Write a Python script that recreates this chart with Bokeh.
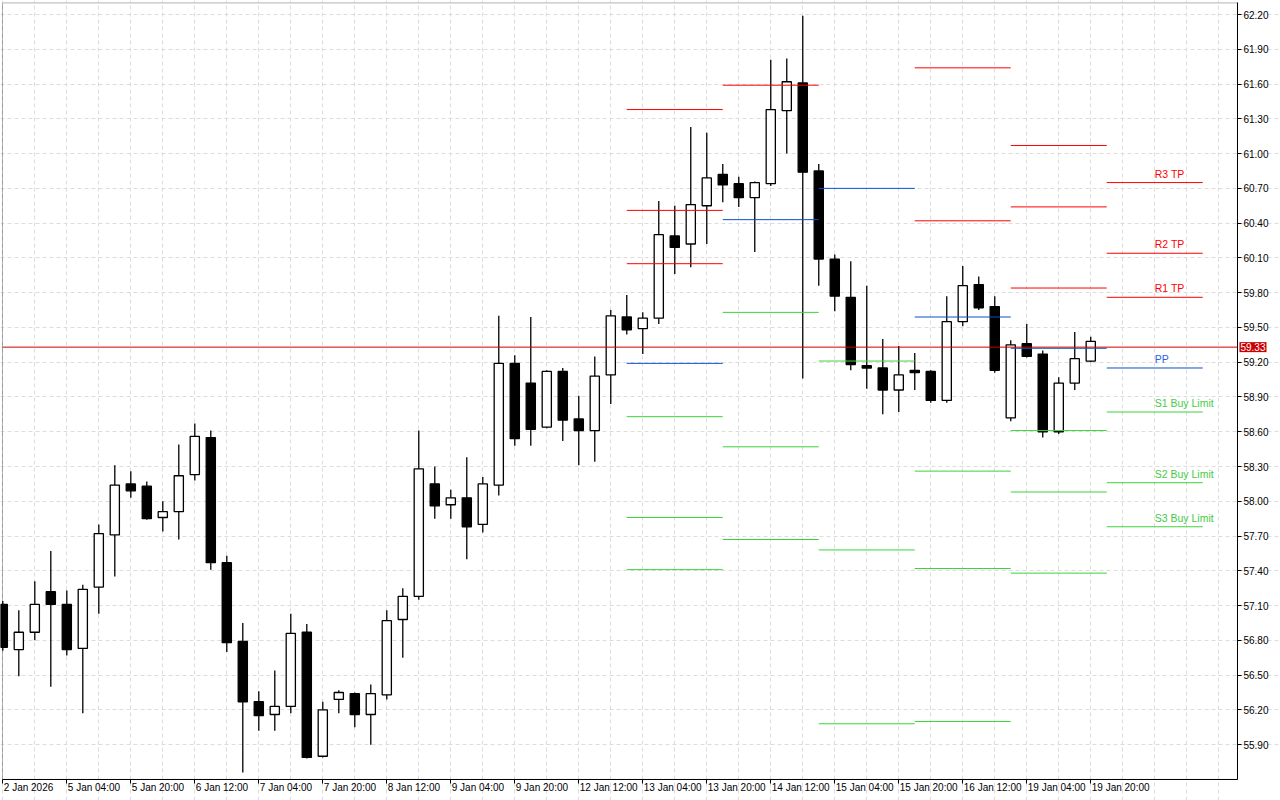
from bokeh.plotting import figure
from bokeh.models import (FixedTicker, PrintfTickFormatter, Label, BoxAnnotation,
                          ColumnDataSource, Range1d)
from bokeh.embed import file_html
from bokeh.resources import INLINE
from bokeh.core.properties import value

# ---------------- data (H4 bars, 2 Jan 2026 12:00 .. 19 Jan 2026 20:00) ----------------
opens = [57.11, 56.72, 56.87, 57.22, 57.11, 56.73, 57.26, 57.71, 58.15, 58.13,
         57.86, 57.91, 58.23, 58.55, 57.47, 56.79, 56.27, 56.16, 56.23, 56.87,
         55.80, 56.29, 56.34, 56.16, 56.33, 56.98, 57.18, 58.15, 57.97, 58.03,
         57.80, 58.14, 59.19, 59.02, 58.64, 59.12, 58.71, 58.61, 59.09, 59.59,
         59.49, 59.58, 60.29, 60.22, 60.55, 60.82, 60.74, 60.62, 60.74, 61.37,
         61.61, 60.85, 60.09, 59.76, 59.17, 59.15, 58.96, 59.13, 59.12, 58.87,
         59.55, 59.87, 59.68, 58.72, 59.36, 59.27, 58.60, 59.02, 59.21]
highs = [57.14, 57.06, 57.31, 57.57, 57.23, 57.28, 57.80, 58.31, 58.26, 58.17,
         58.00, 58.49, 58.67, 58.61, 57.53, 56.95, 56.36, 56.54, 57.03, 56.94,
         56.27, 56.37, 56.35, 56.42, 57.06, 57.25, 58.61, 58.30, 58.10, 58.38,
         58.21, 59.60, 59.26, 59.59, 59.13, 59.15, 58.91, 59.25, 59.65, 59.78,
         59.63, 60.59, 60.55, 61.23, 61.18, 60.91, 60.80, 60.76, 61.81, 61.82,
         62.19, 60.91, 60.13, 60.07, 59.86, 59.40, 59.34, 59.28, 59.13, 59.77,
         60.03, 59.94, 59.77, 59.39, 59.53, 59.30, 59.07, 59.46, 59.42]
lows = [56.71, 56.49, 56.80, 56.40, 56.67, 56.17, 57.03, 57.35, 58.03, 57.84,
        57.74, 57.67, 58.18, 57.41, 56.70, 55.66, 56.02, 56.02, 56.17, 55.78,
        55.79, 56.17, 56.05, 55.90, 56.29, 56.65, 57.15, 57.85, 57.85, 57.50,
        57.73, 58.05, 58.48, 58.48, 58.63, 58.52, 58.31, 58.34, 58.84, 59.44,
        59.27, 59.53, 59.96, 60.02, 60.22, 60.58, 60.54, 60.15, 60.72, 61.00,
        59.06, 59.86, 59.64, 59.13, 58.97, 58.75, 58.77, 58.96, 58.85, 58.85,
        59.51, 59.65, 59.11, 58.69, 59.24, 58.55, 58.58, 58.96, 59.20]
closes = [56.74, 56.87, 57.11, 57.11, 56.72, 57.24, 57.72, 58.14, 58.09, 57.85,
          57.91, 58.22, 58.56, 57.47, 56.78, 56.27, 56.15, 56.23, 56.86, 55.79,
          56.20, 56.35, 56.16, 56.34, 56.97, 57.18, 58.28, 57.96, 58.03, 57.78,
          58.15, 59.19, 58.54, 58.62, 59.12, 58.70, 58.61, 59.08, 59.60, 59.48,
          59.58, 60.30, 60.19, 60.56, 60.79, 60.73, 60.62, 60.75, 61.38, 61.62,
          60.84, 60.09, 59.77, 59.18, 59.15, 58.96, 59.09, 59.11, 58.87, 59.55,
          59.86, 59.67, 59.13, 59.35, 59.25, 58.60, 59.02, 59.23, 59.38]

tick_bars = [0, 4, 8, 12, 16, 20, 24, 28, 32, 36, 40, 44, 48, 52, 56, 60, 64, 68]
tick_labels = ["2 Jan 2026", "5 Jan 04:00", "5 Jan 20:00", "6 Jan 12:00",
               "7 Jan 04:00", "7 Jan 20:00", "8 Jan 12:00", "9 Jan 04:00",
               "9 Jan 20:00", "12 Jan 12:00", "13 Jan 04:00", "13 Jan 20:00",
               "14 Jan 12:00", "15 Jan 04:00", "15 Jan 20:00", "16 Jan 12:00",
               "19 Jan 04:00", "19 Jan 20:00"]

y_ticks = [55.90, 56.20, 56.50, 56.80, 57.10, 57.40, 57.70, 58.00, 58.30, 58.60,
           58.90, 59.20, 59.50, 59.80, 60.10, 60.40, 60.70, 61.00, 61.30, 61.60,
           61.90, 62.20]

current_price = 59.33

# daily pivot levels (None = off chart)
pivot_days = ["13 Jan", "14 Jan", "15 Jan", "16 Jan", "19 Jan", "20 Jan"]
pivot_first_bar = [39, 45, 51, 57, 63, 69]
pivot_r3 = [61.38, None, None, None, 61.07, 60.75]
pivot_r2 = [60.51, None, None, 61.74, 60.54, 60.14]
pivot_r1 = [60.05, 61.59, None, 60.42, 59.84, 59.76]
pivot_pp = [59.19, 60.43, 60.70, 59.59, 59.32, 59.15]
pivot_s1 = [58.73, 59.63, 59.21, 58.26, 58.61, 58.77]
pivot_s2 = [57.86, 58.47, 57.58, 57.42, 58.08, 58.16]
pivot_s3 = [57.41, 57.67, 56.08, 56.10, 57.38, 57.78]
level_names = ["R3 TP", "R2 TP", "R1 TP", "PP", "S1 Buy Limit", "S2 Buy Limit", "S3 Buy Limit"]

# ---------------- styles / layout ----------------
RED = "#ff0000"
BLUE = "#0a4fd0"
GREEN = "#3cd23c"
PRICE_RED = "#cc0000"
FONT = "Liberation Sans"
BARS_PER_DAY = 6

# the frame covers the whole canvas; the chart box sits inside it
X_VIEW = (-0.144, 79.86)
Y_VIEW = (55.418, 62.321)
X_LEFT, X_RIGHT = -0.02, 77.17
Y_BOTTOM, Y_TOP = 55.60, 62.30

p = figure(frame_width=1280, frame_height=800,
           x_range=Range1d(*X_VIEW), y_range=Range1d(*Y_VIEW),
           y_axis_location="right", toolbar_location=None, output_backend="svg",
           min_border=0)
p.background_fill_color = "white"
p.border_fill_color = "white"
p.outline_line_color = None

# grid (limited to the chart box)
p.xgrid.ticker = FixedTicker(ticks=list(range(0, 78, 2)))
p.ygrid.ticker = FixedTicker(ticks=y_ticks)
p.xgrid.bounds = (Y_BOTTOM, Y_TOP)
p.ygrid.bounds = (X_LEFT, X_RIGHT)
for g in (p.xgrid, p.ygrid):
    g.grid_line_color = "#dcdcdc"
    g.grid_line_dash = "4 3"
    g.grid_line_width = 1

# y axis at the right edge of the chart box
p.yaxis.fixed_location = X_RIGHT
p.yaxis.bounds = (Y_BOTTOM, Y_TOP)
p.yaxis.ticker = FixedTicker(ticks=y_ticks)
p.yaxis.formatter = PrintfTickFormatter(format="%.2f")
p.yaxis.major_label_text_font = FONT
p.yaxis.major_label_text_font_size = "10px"
p.yaxis.major_label_text_color = "black"
p.yaxis.major_tick_out = 4
p.yaxis.major_tick_in = 0
p.yaxis.minor_tick_line_color = None
p.yaxis.axis_line_color = "black"
p.yaxis.major_tick_line_color = "black"
p.yaxis.major_label_standoff = 2

# x axis at the bottom edge of the chart box: tick marks only
p.xaxis.fixed_location = Y_BOTTOM
p.xaxis.bounds = (X_LEFT, X_RIGHT)
p.xaxis.ticker = FixedTicker(ticks=tick_bars)
p.xaxis.major_label_overrides = {b: "" for b in tick_bars}
p.xaxis.major_tick_out = 4
p.xaxis.major_tick_in = 0
p.xaxis.minor_tick_line_color = None
p.xaxis.axis_line_color = "black"
p.xaxis.major_tick_line_color = "black"

# chart box border
p.add_layout(BoxAnnotation(left=X_LEFT, right=X_RIGHT, bottom=Y_BOTTOM, top=Y_TOP,
                           fill_alpha=0, line_color="black", line_width=1))

# time labels, left-aligned after each tick
p.text(x=tick_bars, y=[Y_BOTTOM] * len(tick_bars), text=tick_labels,
       x_offset=1, y_offset=3, text_align="left", text_baseline="top",
       text_font=value(FONT), text_font_size="10px", text_color="black")

# candles
idx = list(range(len(opens)))
bull = [c >= o for o, c in zip(opens, closes)]
csrc = ColumnDataSource(dict(
    x=idx, high=highs, low=lows,
    top=[max(o, c) for o, c in zip(opens, closes)],
    bottom=[min(o, c) for o, c in zip(opens, closes)],
    fill=["white" if b else "black" for b in bull]))
p.segment(x0="x", y0="low", x1="x", y1="high", source=csrc, line_color="black", line_width=1.3)
p.vbar(x="x", width=0.575, top="top", bottom="bottom", source=csrc,
       fill_color="fill", line_color="black", line_width=1.3)

# pivot segments
levels = [pivot_r3, pivot_r2, pivot_r1, pivot_pp, pivot_s1, pivot_s2, pivot_s3]
level_colors = [RED, RED, RED, BLUE, GREEN, GREEN, GREEN]
x0s, x1s, ys, cols = [], [], [], []
for lev, col in zip(levels, level_colors):
    for start, v in zip(pivot_first_bar, lev):
        if v is None:
            continue
        x0s.append(start)
        x1s.append(start + BARS_PER_DAY)
        ys.append(v)
        cols.append(col)
p.segment(x0=x0s, y0=ys, x1=x1s, y1=ys, line_color=cols, line_width=1)

# labels on last (future) day
last_vals = [lev[-1] for lev in levels]
lab_colors = [RED, RED, RED, "#2a62e0", "#44cc44", "#44cc44", "#44cc44"]
p.text(x=[pivot_first_bar[-1] + 3] * len(level_names), y=last_vals, text=level_names,
       text_color=lab_colors, text_font=value(FONT), text_font_size="10.5px",
       text_baseline="bottom", text_align="left", y_offset=-3)

# current price line + label
p.segment(x0=[X_LEFT], x1=[X_RIGHT], y0=[current_price], y1=[current_price],
          line_color=PRICE_RED, line_width=1)
p.add_layout(Label(x=X_RIGHT, y=current_price, x_offset=2, text="%.2f" % current_price,
                   text_color="white", background_fill_color=PRICE_RED,
                   text_font=FONT, text_font_size="10px",
                   text_baseline="middle", text_align="left", padding=1))

open("out.html", "w").write(file_html(p, INLINE))
